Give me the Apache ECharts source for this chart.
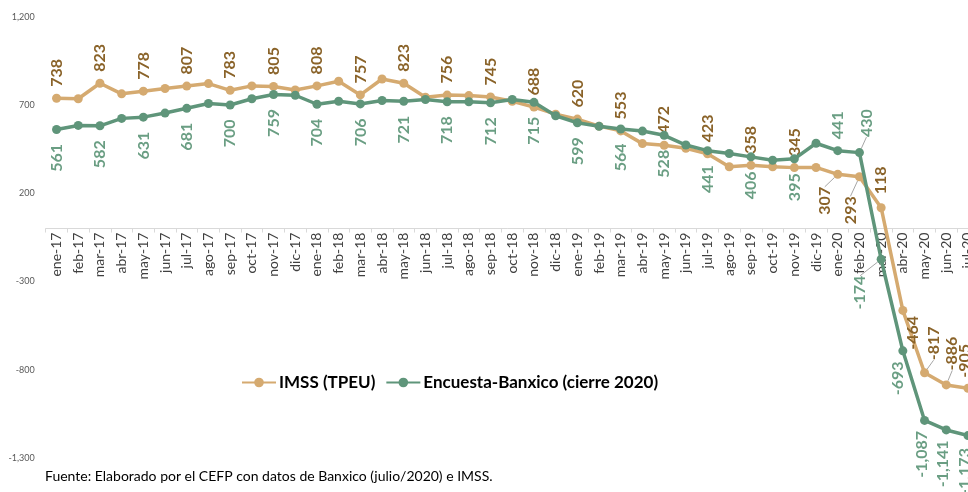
<!DOCTYPE html>
<html>
<head>
<meta charset="utf-8">
<script src="https://cdn.jsdelivr.net/npm/echarts@6/dist/echarts.min.js"></script>
<style>
html,body{margin:0;padding:0;background:#fff;}
#chart{width:968px;height:492px;}
</style>
</head>
<body>
<div id="chart"></div>
<script>
const categories = ['ene-17','feb-17','mar-17','abr-17','may-17','jun-17','jul-17','ago-17','sep-17','oct-17','nov-17','dic-17',
  'ene-18','feb-18','mar-18','abr-18','may-18','jun-18','jul-18','ago-18','sep-18','oct-18','nov-18','dic-18',
  'ene-19','feb-19','mar-19','abr-19','may-19','jun-19','jul-19','ago-19','sep-19','oct-19','nov-19','dic-19',
  'ene-20','feb-20','mar-20','abr-20','may-20','jun-20','jul-20'];

const imss = [738,735,823,763,778,793,807,821,783,808,805,785,
  808,834,757,847,823,744,756,753,745,721,688,648,
  620,580,553,481,472,455,423,350,358,350,345,346,
  307,293,118,-464,-817,-886,-905];

const banxico = [561,584,582,624,631,654,681,708,700,735,759,755,
  704,721,706,725,721,731,718,718,712,731,715,639,
  599,579,564,552,528,473,441,425,406,387,395,483,
  441,430,-174,-693,-1087,-1141,-1173];

const imssLabeled = [0,2,4,6,8,10,12,14,16,18,20,22,24,26,28,30,32,34,36,37,38,39,40,41,42];
const banxicoLabeled = [0,2,4,6,8,10,12,14,16,18,20,22,24,26,28,30,32,34,36,37,38,39,40,41,42];

const yTicks = {min: -1300, max: 1200, interval: 500};

// label placement tweaks (styles only; dx = horizontal screen shift)
const imssTweaks = {
  36: {pos: 'bottom', dist: 8, dx: -13, line: true},
  37: {pos: 'bottom', dist: 15, dx: -9, line: true},
  38: {pos: 'top', dist: 9, dx: 0},
  39: {pos: 'bottom', dist: 1, dx: 10},
  40: {pos: 'top', dist: 8, dx: 9, line: true},
  41: {pos: 'top', dist: 10, dx: 6, line: true},
  42: {pos: 'top', dist: 6, dx: -3}
};
const banxicoTweaks = {
  36: {pos: 'top', dist: 7, dx: 0},
  37: {pos: 'top', dist: 11, dx: 7, line: true},
  38: {pos: 'bottom', dist: 12, dx: -21, line: true},
  39: {pos: 'bottom', dist: 6, dx: -5},
  40: {pos: 'bottom', dist: 6, dx: -3},
  41: {pos: 'bottom', dist: 6, dx: -3},
  42: {pos: 'bottom', dist: 8, dx: -3}
};

const TAN = '#D5AA70';
const TAN_LABEL = '#8A6329';
const GREEN = '#5F957A';
const GREEN_LABEL = '#6A9E83';
const FONT = 'Lato, "Open Sans", sans-serif';

function fmt(v){ return v.toLocaleString('en-US'); }

function buildData(values, labeled, tweaks, defPos, defDist, color){
  return values.map((v, i) => {
    if (labeled.indexOf(i) < 0) return {value: v, label: {show: false}, labelLine: {show: false}};
    const t = tweaks[i] || {pos: defPos, dist: defDist, dx: 0};
    const top = t.pos === 'top';
    return {
      value: v,
      labelLine: {show: !!t.line, lineStyle: {color: '#A6A6A6', width: 1}},
      label: {
        show: true,
        position: t.pos,
        distance: t.dist,
        rotate: 90,
        offset: [0, t.dx || 0],
        align: top ? 'left' : 'right',
        verticalAlign: 'middle',
        color: color,
        fontFamily: FONT,
        fontWeight: 'bold',
        fontSize: 16,
        formatter: p => fmt(p.value)
      }
    };
  });
}

const chart = echarts.init(document.getElementById('chart'), null, {renderer: 'canvas'});
chart.setOption({
  animation: false,
  backgroundColor: '#ffffff',
  grid: {left: 45.7, right: -10.8, top: 16.7, bottom: 34, containLabel: false, outerBoundsMode: 'none'},
  title: {
    text: 'Fuente: Elaborado por el CEFP con datos de Banxico (julio/2020) e IMSS.',
    left: 40, top: 464,
    textStyle: {fontFamily: FONT, fontWeight: 'normal', fontSize: 14, color: '#000'}
  },
  legend: {
    left: 236, top: 369,
    itemWidth: 34, itemHeight: 12, itemGap: 10,
    textStyle: {fontFamily: FONT, fontWeight: 'bold', fontSize: 17, color: '#000', padding: [0,0,0,-2]},
    data: ['IMSS (TPEU)', 'Encuesta-Banxico (cierre 2020)']
  },
  xAxis: {
    type: 'category',
    data: categories,
    boundaryGap: true,
    position: 'bottom',
    offset: 0,
    axisLine: {onZero: false, lineStyle: {color: '#D9D9D9', width: 1}},
    axisTick: {show: true, length: 4, lineStyle: {color: '#D9D9D9'}},
    axisLabel: {interval: 0, rotate: 90, margin: 4, fontFamily: FONT, fontSize: 14, color: '#404040'},
    splitLine: {show: false}
  },
  yAxis: {
    type: 'value',
    min: yTicks.min, max: yTicks.max, interval: yTicks.interval,
    axisLine: {show: false},
    axisTick: {show: false},
    splitLine: {show: false},
    axisLabel: {fontFamily: FONT, fontSize: 9, color: '#595959', margin: 11, formatter: v => fmt(v)}
  },
  series: [
    {
      name: 'IMSS (TPEU)',
      type: 'line',
      data: buildData(imss, imssLabeled, imssTweaks, 'top', 7, TAN_LABEL),
      symbol: 'circle', symbolSize: 9,
      lineStyle: {color: TAN, width: 3.5},
      itemStyle: {color: TAN},
      labelLine: {show: false, lineStyle: {color: '#A6A6A6', width: 1}},
      z: 2
    },
    {
      name: 'Encuesta-Banxico (cierre 2020)',
      type: 'line',
      data: buildData(banxico, banxicoLabeled, banxicoTweaks, 'bottom', 10, GREEN_LABEL),
      symbol: 'circle', symbolSize: 9,
      lineStyle: {color: GREEN, width: 3.5},
      itemStyle: {color: GREEN},
      labelLine: {show: false, lineStyle: {color: '#A6A6A6', width: 1}},
      z: 3
    }
  ]
});
// move the category axis up to the zero line, using the library's scale
const yZero = chart.convertToPixel({yAxisIndex: 0}, 0);
const yBottom = chart.convertToPixel({yAxisIndex: 0}, yTicks.min);
chart.setOption({xAxis: {offset: yZero - yBottom}});
</script>
</body>
</html>
